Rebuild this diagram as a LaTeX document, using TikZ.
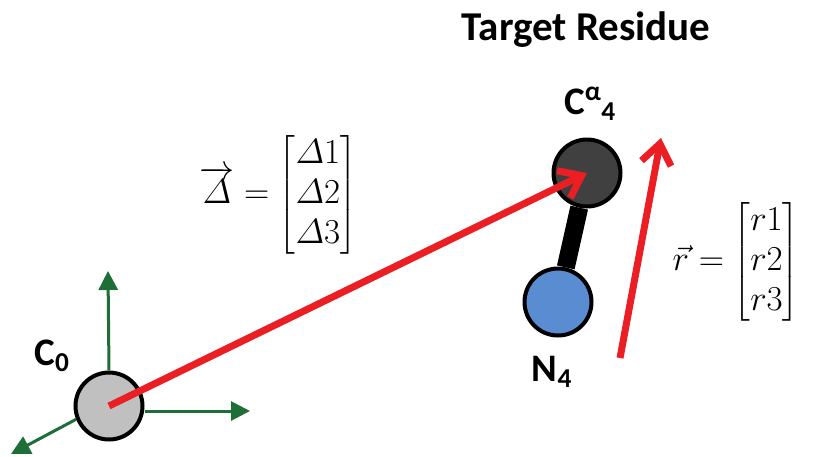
\RequirePackage{fix-cm}
\documentclass[tikz,border=0pt]{standalone}
\usepackage{amsmath}
\usepackage{fontspec}
\newfontfamily\labelfont{Carlito}
\usetikzlibrary{arrows.meta, positioning}
\definecolor{axisgreen}{RGB}{30,110,55}
\definecolor{vecred}{RGB}{235,30,36}
\definecolor{nblue}{RGB}{90,140,210}
\definecolor{cadark}{RGB}{64,64,64}
\definecolor{cogray}{RGB}{192,192,192}

\begin{document}
\begin{tikzpicture}[x=1pt, y=-1pt,
  atom/.style={circle, draw=black, line width=4pt, minimum size=67pt, inner sep=0pt},
  axis/.style={-{Triangle[length=19pt,width=19pt]}, axisgreen, line width=3pt},
  vec/.style={-{Straight Barb[length=20pt,width=30pt]}, vecred, line width=7pt},
  lbl/.style={font=\labelfont\bfseries\fontsize{39}{42}\selectfont, inner sep=0pt},
  eqn/.style={font=\fontsize{35}{40}\selectfont, inner sep=0pt}]
  \useasboundingbox (0,0) rectangle (814,456);
  % atoms
  \node[atom, fill=cogray] (C0) at (109,406) {};
  \node[atom, fill=cadark] (Ca) at (587,173) {};
  \node[atom, fill=nblue]  (N4) at (558,302) {};
  \draw[line width=18pt] (Ca) -- (N4);
  % local frame at C0
  \coordinate (ax) at (250,411);
  \coordinate (ay) at (108,271);
  \coordinate (az) at (11,454);
  \draw[axis] (C0.east |- ax) -- (ax);
  \draw[axis] (C0.north) -- (ay);
  \draw[axis] (C0.-158) -- (az);
  % vectors
  \draw[vec] (C0.center) -- (Ca.center);
  \coordinate (rtail) at (620,358);
  \coordinate (rtip)  at (661,138);
  \draw[vec] (rtail) -- (rtip);
  % labels
  \node[lbl] (C0lbl) at (52,356) {C\textsubscript{0}};
  \node[lbl] (Calbl) at (590,104) {C\textsuperscript{α}\textsubscript{4}};
  \node[lbl] (N4lbl) at (552,372) {N\textsubscript{4}};
  \node[lbl, font=\labelfont\bfseries\fontsize{41}{44}\selectfont] (title) at (586,30) {Target Residue};
  \node[eqn] (Deq) at (278,195)
    {$\overrightarrow{\varDelta}=\begin{bmatrix}\varDelta1\\ \varDelta2\\ \varDelta3\end{bmatrix}$};
  \node[eqn] (req) at (736,262)
    {$\vec{r}=\begin{bmatrix}r1\\ r2\\ r3\end{bmatrix}$};
\end{tikzpicture}
\end{document}
